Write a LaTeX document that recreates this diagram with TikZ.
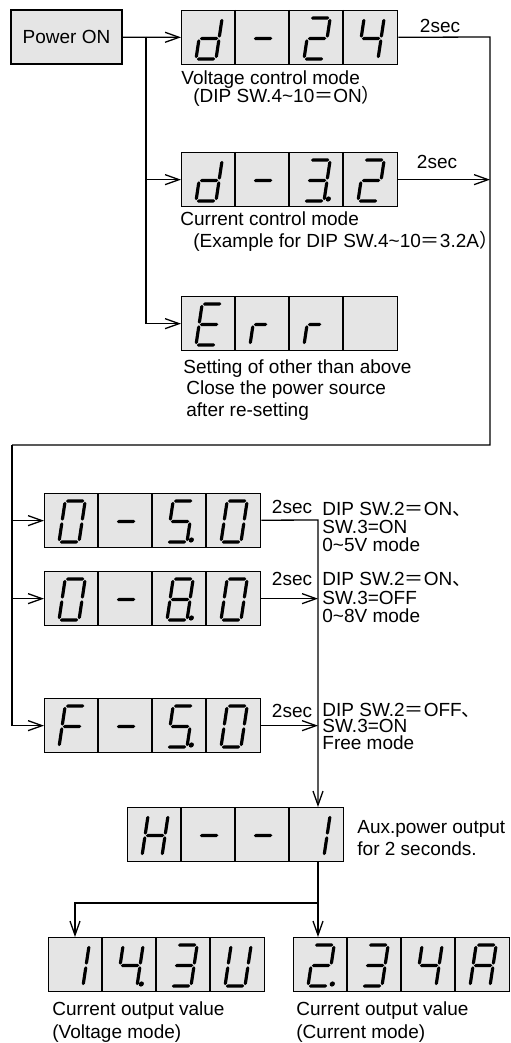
\documentclass[tikz,border=0pt]{standalone}
\usepackage{fontspec}
\setmainfont{Liberation Sans}
\newfontfamily\cjk{Noto Sans CJK JP}
\usetikzlibrary{arrows.meta}

\newcommand\fweq{{\cjk ＝}}
\newcommand\fwcomma{{\cjk 、}}
\newcommand\fwparen{{\cjk ）}}

% seven segment pieces, glyph frame 20 x 41, origin at bottom left
\newcommand\hsg[3]{\fill[segment] (#1+0.8,#3) -- (#1+2.4,#3-1.6) -- (#2-2.4,#3-1.6) -- (#2-0.8,#3) -- (#2-2.4,#3+1.6) -- (#1+2.4,#3+1.6) -- cycle;}
\newcommand\vsg[3]{\fill[segment] (#1,#2+0.8) -- (#1+1.6,#2+2.4) -- (#1+1.6,#3-2.4) -- (#1,#3-0.8) -- (#1-1.6,#3-2.4) -- (#1-1.6,#2+2.4) -- cycle;}
\newcommand\lcda{\hsg{0}{20}{-41}}
\newcommand\lcdb{\vsg{20}{-41}{-20.5}}
\newcommand\lcdc{\vsg{20}{-20.5}{0}}
\newcommand\lcdd{\hsg{0}{20}{0}}
\newcommand\lcde{\vsg{0}{-20.5}{0}}
\newcommand\lcdf{\vsg{0}{-41}{-20.5}}
\newcommand\lcdg{\hsg{0}{20}{-20.5}}
\newcommand\lcdr{\hsg{0}{15}{-20.5}}
\newcommand\lcdp{\fill[segment] (24,-2) circle[radius=2.6];}

% one digit cell: x, y of the cell, list of segments
\newcommand\lcdglyph[3]{%
  \begin{scope}[shift={(#1+15,#2+49)}, xslant=0.15]
    \foreach \s in {#3} {\csname lcd\s\endcsname}
  \end{scope}}

% four digit display: name, x, y, digits
\newcommand\lcdpanel[7]{%
  \node[panel] (#1) at (#2,#3) {};
  \draw[divider] (#2+54,#3) -- ++(0,54) (#2+108,#3) -- ++(0,54) (#2+162,#3) -- ++(0,54);
  \lcdglyph{#2}{#3}{#4}\lcdglyph{#2+54}{#3}{#5}\lcdglyph{#2+108}{#3}{#6}\lcdglyph{#2+162}{#3}{#7}}

\begin{document}
\begin{tikzpicture}[
    x=0.5pt, y=-0.5pt,
    font=\fontsize{9.5}{11}\selectfont,
    panel/.style={
        draw,
        fill=gray!20,
        line width=0.65pt,
        anchor=north west,
        minimum width=108pt,
        minimum height=27pt,
        inner sep=0pt
    },
    startbox/.style={
        draw,
        fill=gray!20,
        line width=0.65pt,
        minimum width=55.5pt,
        minimum height=27pt,
        inner sep=0pt
    },
    divider/.style={line width=0.65pt},
    segment/.style={fill=black},
    note/.style={anchor=base west, inner sep=0pt},
    secnote/.style={inner sep=0pt},
    wire/.style={line width=0.65pt},
    arrow/.style={-{Straight Barb[length=7pt,width=5pt]}, line width=0.65pt}
]
\useasboundingbox (0,0) rectangle (510,1043);

\node[startbox] (power) at (66.5,37) {Power ON};

\lcdpanel{d24}{181}{10}{b,c,d,e,g}{g}{a,b,g,e,d}{f,g,b,c}
\lcdpanel{d32}{181}{152}{b,c,d,e,g}{g}{a,b,g,c,d,p}{a,b,g,e,d}
\lcdpanel{err}{181}{296}{a,d,e,f,g}{e,r}{e,r}{}
\lcdpanel{o50}{44}{493}{a,b,c,d,e,f}{g}{a,f,g,c,d,p}{a,b,c,d,e,f}
\lcdpanel{o80}{44}{571}{a,b,c,d,e,f}{g}{a,b,c,d,e,f,g,p}{a,b,c,d,e,f}
\lcdpanel{f50}{44}{698}{a,e,f,g}{g}{a,f,g,c,d,p}{a,b,c,d,e,f}
\lcdpanel{h1}{127}{807}{b,c,e,f,g}{g}{g}{b,c}
\lcdpanel{v143}{48}{937}{b,c}{f,g,b,c,p}{a,b,g,c,d}{b,c,d,e,f}
\lcdpanel{a234}{293}{937}{a,b,g,e,d,p}{a,b,g,c,d}{f,g,b,c}{a,b,c,e,f,g}

% texts
\node[note] (vmode) at (181,85) {Voltage control mode};
\node[note] (vdip) at (193,103) {(DIP SW.4\textasciitilde10\fweq ON\fwparen};
\node[note] (cmode) at (180,226) {Current control mode};
\node[note] (cdip) at (193,248) {(Example for DIP SW.4\textasciitilde10\fweq 3.2A\fwparen};
\node[note] (errtxt1) at (183,373) {Setting of other than above};
\node[note] (errtxt2) at (186,394) {Close the power source};
\node[note] (errtxt3) at (186,416) {after re-setting};

\node[note] (sw5a) at (322,515) {DIP SW.2\fweq ON\fwcomma};
\node[note] (sw5b) at (322,533) {SW.3=ON};
\node[note] (sw5c) at (322,551) {0\textasciitilde5V mode};
\node[note] (sw8a) at (322,585) {DIP SW.2\fweq ON\fwcomma};
\node[note] (sw8b) at (322,604) {SW.3=OFF};
\node[note] (sw8c) at (322,622) {0\textasciitilde8V mode};
\node[note] (swfa) at (322,716) {DIP SW.2\fweq OFF\fwcomma};
\node[note] (swfb) at (322,732) {SW.3=ON};
\node[note] (swfc) at (322,749) {Free mode};

\node[note] (aux1) at (357,833) {Aux.power output};
\node[note] (aux2) at (357,855) {for 2 seconds.};

\node[note] (vout1) at (52,1015) {Current output value};
\node[note] (vout2) at (52,1038) {(Voltage mode)};
\node[note] (aout1) at (296,1015) {Current output value};
\node[note] (aout2) at (296,1038) {(Current mode)};

\node[secnote] (sec1) at (440,26) {2sec};
\node[secnote] (sec2) at (437,162) {2sec};
\node[secnote] (sec3) at (292,507) {2sec};
\node[secnote] (sec4) at (292,579) {2sec};
\node[secnote] (sec5) at (292,711) {2sec};

% connectors
\coordinate (fork) at (146,37);
\coordinate (ne) at (490,37);
\coordinate (se) at (490,445);
\coordinate (sw) at (12,445);
\coordinate (join) at (318,520);
\coordinate (split) at (318,903);
\coordinate (lsplit) at (75,903);

\draw[arrow] (power) -- (d24);
\draw[arrow] (fork) |- (d32);
\draw[arrow] (fork) |- (err);
\draw[wire] (d24) -- (ne) -- (se) -- (sw);
\draw[arrow] (d32) -- (d32 -| ne);
\draw[arrow] (sw) |- (o50);
\draw[arrow] (sw) |- (o80);
\draw[arrow] (sw) |- (f50);
\draw[arrow] (o50) -- (join) -- (join |- h1.north);
\draw[arrow] (o80) -- (o80 -| join);
\draw[arrow] (f50) -- (f50 -| join);
\draw[arrow] (h1.south -| join) -- (join |- a234.north);
\draw[arrow] (split) -- (lsplit) -- (lsplit |- v143.north);

\end{tikzpicture}
\end{document}
